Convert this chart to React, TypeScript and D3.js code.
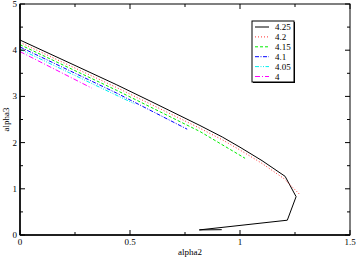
import React from 'react';
import * as d3 from 'd3';

// alpha2 / alpha3 curves, one per parameter value
const labels = ['4.25', '4.2', '4.15', '4.1', '4.05', '4'];
const colors = ['#000000', '#ff3030', '#00ee00', '#0000ff', '#00eeee', '#ff00ff'];
const dashes = ['none', '1,2', '3,2', '4,1.5,1,1.5', '4,1.5,1,1.5,1,1.5', '5,2,1,2'];

const s425x = [0, 0.25, 0.44, 0.6, 0.818, 0.92, 1.0, 1.1, 1.205, 1.255, 1.215, 0.815, 0.917];
const s425y = [4.22, 3.67, 3.25, 2.88, 2.37, 2.12, 1.9, 1.61, 1.27, 0.83, 0.32, 0.11, 0.115];
const s42x = [0, 0.44, 0.818, 0.92, 1.0, 1.1, 1.2, 1.273];
const s42y = [4.17, 3.19, 2.31, 2.06, 1.84, 1.55, 1.22, 0.87];
const s415x = [0, 0.44, 0.818, 1.023];
const s415y = [4.12, 3.13, 2.24, 1.66];
const s41x = [0, 0.44, 0.76];
const s41y = [4.07, 3.07, 2.29];
const s405x = [0, 0.52];
const s405y = [4.02, 2.84];
const s4x = [0, 0.326];
const s4y = [3.97, 3.18];

const xsets = [s425x, s42x, s415x, s41x, s405x, s4x];
const ysets = [s425y, s42y, s415y, s41y, s405y, s4y];

const xMajor = [0, 0.5, 1, 1.5];
const xMinor = [0.25, 0.75, 1.25];
const yMajor = [0, 1, 2, 3, 4, 5];
const yMinor = [0.5, 1.5, 2.5, 3.5, 4.5];

const W = 357;
const H = 259;
const left = 20;
const right = 350;
const top = 4;
const bottom = 235;
const font = '"Liberation Serif", "DejaVu Serif", serif';

export default function App() {
  const x = d3.scaleLinear().domain([0, 1.5]).range([left, right]);
  const y = d3.scaleLinear().domain([0, 5]).range([bottom, top]);
  const line = d3.line<[number, number]>().x(d => x(d[0])).y(d => y(d[1]));

  const lx = 252;
  const ly = 21;

  return (
    <svg width={W} height={H} style={{ position: 'absolute', left: 0, top: 0, background: '#fff' }}>
      {/* curves */}
      {xsets.map((xs, i) => (
        <path
          key={'c' + i}
          d={line(xs.map((v, j) => [v, ysets[i][j]]) as [number, number][]) || ''}
          fill="none"
          stroke={colors[i]}
          strokeWidth={1}
          strokeDasharray={dashes[i]}
        />
      ))}

      {/* frame */}
      <rect x={left} y={top} width={right - left} height={bottom - top} fill="none" stroke="#000" strokeWidth={1} />
      <line x1={left} x2={right} y1={bottom} y2={bottom} stroke="#000" strokeWidth={1.5} />
      <line x1={left} x2={left} y1={top} y2={bottom} stroke="#000" strokeWidth={1.5} />

      {/* ticks */}
      {xMajor.map(v => (
        <g key={'xm' + v}>
          <line x1={x(v)} x2={x(v)} y1={bottom} y2={bottom - 5} stroke="#000" />
          <line x1={x(v)} x2={x(v)} y1={top} y2={top + 5} stroke="#000" />
          <text x={x(v)} y={245} fontSize={9} fontFamily={font} textAnchor="middle">
            {String(v)}
          </text>
        </g>
      ))}
      {xMinor.map(v => (
        <g key={'xn' + v}>
          <line x1={x(v)} x2={x(v)} y1={bottom} y2={bottom - 3} stroke="#000" />
          <line x1={x(v)} x2={x(v)} y1={top} y2={top + 3} stroke="#000" />
        </g>
      ))}
      {yMajor.map(v => (
        <g key={'ym' + v}>
          <line x1={left} x2={left + 5} y1={y(v)} y2={y(v)} stroke="#000" />
          <line x1={right} x2={right - 5} y1={y(v)} y2={y(v)} stroke="#000" />
          <text x={17} y={y(v) + 3} fontSize={9} fontFamily={font} textAnchor="end">
            {String(v)}
          </text>
        </g>
      ))}
      {yMinor.map(v => (
        <g key={'yn' + v}>
          <line x1={left} x2={left + 3} y1={y(v)} y2={y(v)} stroke="#000" />
          <line x1={right} x2={right - 3} y1={y(v)} y2={y(v)} stroke="#000" />
        </g>
      ))}

      {/* axis titles */}
      <text x={(left + right) / 2 + 5} y={255} fontSize={9} fontFamily={font} textAnchor="middle">
        alpha2
      </text>
      <text
        transform={`translate(9,${(top + bottom) / 2}) rotate(-90)`}
        fontSize={9}
        fontFamily={font}
        textAnchor="middle"
      >
        alpha3
      </text>

      {/* legend */}
      <rect x={lx + 1} y={ly + 1} width={42} height={61} fill="#000" />
      <rect x={lx} y={ly} width={42} height={61} fill="#fff" stroke="#000" strokeWidth={1} />
      {labels.map((l, i) => (
        <g key={'l' + i}>
          <line
            x1={lx + 3}
            x2={lx + 17}
            y1={ly + 6 + i * 9.9}
            y2={ly + 6 + i * 9.9}
            stroke={colors[i]}
            strokeDasharray={dashes[i]}
          />
          <text x={lx + 23} y={ly + 9 + i * 9.9} fontSize={9} fontFamily={font}>
            {l}
          </text>
        </g>
      ))}
    </svg>
  );
}
